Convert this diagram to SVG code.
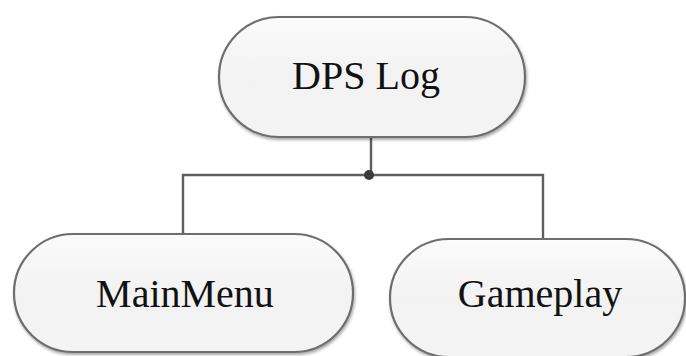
<svg xmlns="http://www.w3.org/2000/svg" width="686" height="356" viewBox="0 0 686 356">
<defs>
<linearGradient id="g" x1="0" y1="0" x2="0" y2="1">
<stop offset="0" stop-color="#fbfbfb"/>
<stop offset="0.5" stop-color="#f2f2f2"/>
<stop offset="1" stop-color="#f4f4f4"/>
</linearGradient>
<filter id="sh" x="-10%" y="-10%" width="120%" height="130%">
<feGaussianBlur in="SourceAlpha" stdDeviation="1.5"/>
<feOffset dx="1" dy="2" result="b"/>
<feComponentTransfer><feFuncA type="linear" slope="0.35"/></feComponentTransfer>
<feMerge><feMergeNode/><feMergeNode in="SourceGraphic"/></feMerge>
</filter>
</defs>
<style>
.node{fill:url(#g);stroke:#6e6e6e;stroke-width:2.2;filter:url(#sh)}
.lbl{font-family:"Liberation Serif","Times New Roman",serif;font-size:40px;fill:#111;text-anchor:middle}
.conn{fill:none;stroke:#5f5f5f;stroke-width:2.4}
</style>
<rect width="686" height="356" fill="#fff"/>
<g id="connectors">
<path class="conn" d="M371 137 V175 M183 234 V175 H543 V239"/>
<circle cx="369" cy="175" r="5" fill="#3a3a3a"/>
</g>
<g id="dps-log">
<rect class="node" x="219" y="17" width="306" height="120" rx="60"/>
<text class="lbl" x="366" y="89">DPS Log</text>
</g>
<g id="mainmenu">
<rect class="node" x="14" y="234" width="339" height="118" rx="59"/>
<text class="lbl" x="185" y="307">MainMenu</text>
</g>
<g id="gameplay">
<rect class="node" x="390" y="239" width="295" height="118" rx="59"/>
<text class="lbl" x="540" y="307">Gameplay</text>
</g>
</svg>
